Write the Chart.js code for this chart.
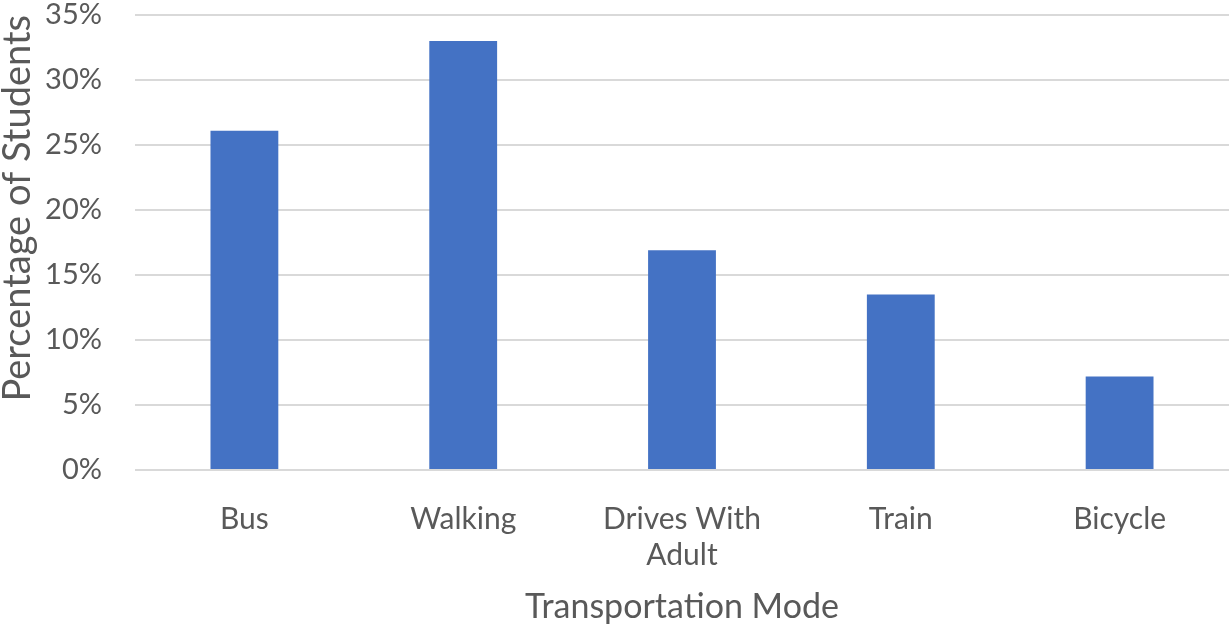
<!DOCTYPE html>
<html>
<head>
<meta charset="utf-8">
<script src="https://cdn.jsdelivr.net/npm/chart.js"></script>
<style>
  html, body { margin: 0; padding: 0; background: #fff; }
  #wrap { width: 1230px; height: 629px; }
</style>
</head>
<body>
<div id="wrap"><canvas id="myChart"></canvas></div>
<script>
const categories = [['Bus'], ['Walking'], ['Drives With', 'Adult'], ['Train'], ['Bicycle']];
const percentages = [26.1, 33.0, 16.9, 13.5, 7.2];
const yTicks = [0, 5, 10, 15, 20, 25, 30, 35];

const ctx = document.getElementById('myChart');

new Chart(ctx, {
    type: 'bar',
    data: {
        labels: categories,
        datasets: [{
            label: 'Percentage of Students',
            data: percentages,
            backgroundColor: '#4472C4',
            barPercentage: 0.31,
            categoryPercentage: 1
        }]
    },
    options: {
        responsive: true,
        maintainAspectRatio: false,
        animation: false,
        layout: { padding: { top: 15, right: 1, left: 0, bottom: 0 } },
        plugins: {
            legend: { display: false },
            tooltip: { enabled: false }
        },
        scales: {
            x: {
                afterFit: (axis) => { axis.height = 159; },
                grid: { display: false },
                border: { display: false },
                ticks: {
                    color: '#595959',
                    font: { family: 'Lato', size: 30 },
                    padding: 23,
                    maxRotation: 0,
                    autoSkip: false
                },
                title: {
                    display: true,
                    text: 'Transportation Mode',
                    color: '#595959',
                    font: { family: 'Lato', size: 34 },
                    padding: { top: 0, bottom: 2 }
                }
            },
            y: {
                min: 0,
                max: 35,
                afterBuildTicks: (axis) => {
                    axis.ticks = yTicks.map(v => ({ value: v }));
                },
                afterFit: (axis) => {
                    axis.width = 135;
                    // tick padding is also added above the top tick; drop it
                    axis.paddingTop = 0;
                    axis.paddingBottom = 0;
                },
                grid: {
                    color: '#d9d9d9',
                    lineWidth: 2,
                    drawTicks: false
                },
                border: { display: false },
                ticks: {
                    color: '#595959',
                    font: { family: 'Lato', size: 29 },
                    padding: 33,
                    callback: (v) => v + '%'
                },
                title: {
                    display: true,
                    align: 'end',
                    text: 'Percentage of Students',
                    color: '#595959',
                    font: { family: 'Lato', size: 38, lineHeight: 0.95 },
                    padding: { top: 0, bottom: 0 }
                }
            }
        }
    }
});
</script>
</body>
</html>
